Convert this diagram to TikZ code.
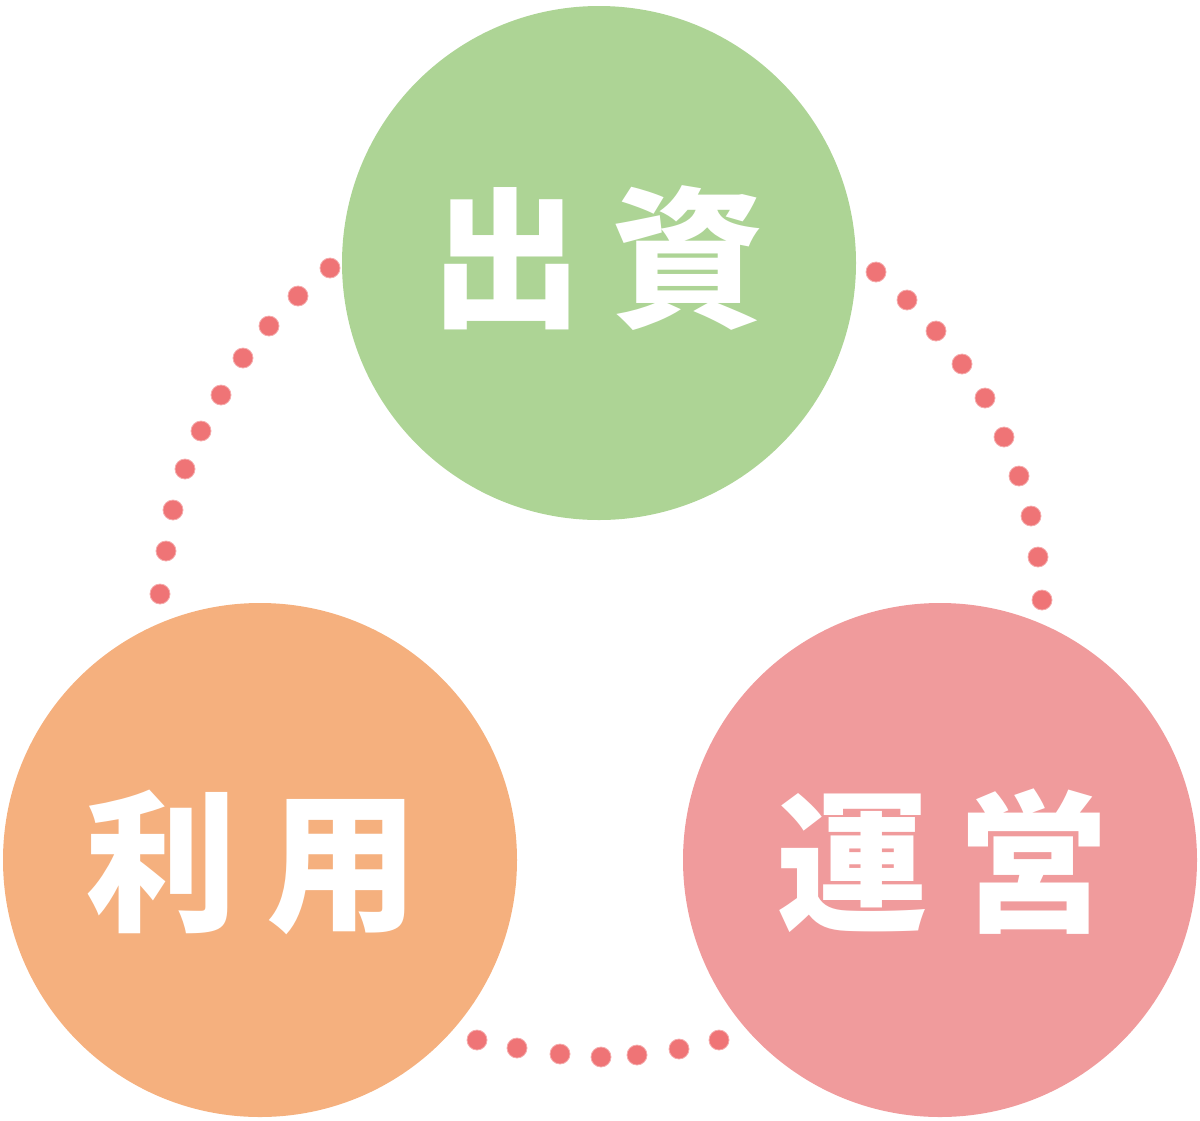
\documentclass[tikz,border=0pt]{standalone}
\usepackage{fontspec}
\newfontfamily\cjk{Noto Sans CJK JP}
\definecolor{cgreen}{HTML}{ADD495}
\definecolor{corange}{HTML}{F5B07E}
\definecolor{cpink}{HTML}{F09B9C}
\definecolor{cdot}{HTML}{EF7476}
\tikzset{
  bigcirc/.style={circle, minimum size=514pt, inner sep=0pt},
  word/.style={text=white, font=\cjk\bfseries\fontsize{152}{152}\selectfont, inner sep=0pt},
  dotmark/.style={circle, fill=cdot, draw=cdot!60!white, line width=0.8pt, minimum size=20pt, inner sep=0pt}
}
\begin{document}
\begin{tikzpicture}[x=1pt,y=-1pt]
\useasboundingbox (0,0) rectangle (1200,1120);
\node[bigcirc, fill=cgreen] (top) at (599,263) {};
\node[bigcirc, fill=corange] (left) at (260,860) {};
\node[bigcirc, fill=cpink] (right) at (940,860) {};
\node[word] (t1) at (597,258) {出\hspace{29pt}資};
\node[word] (t2) at (252,862) {利\hspace{29pt}用};
\node[word] (t3) at (943,862) {運\hspace{29pt}営};
\foreach \x/\y [count=\i] in {330/268,298/296,269/326,243/358,221/395,201/431,185/469,173/510,166/551,160/594}
  \node[dotmark] (l\i) at (\x,\y) {};
\foreach \x/\y [count=\i] in {876/272,907/300,936/331,962/364,985/398,1004/437,1019/476,1031/516,1038/557,1042/600}
  \node[dotmark] (r\i) at (\x,\y) {};
\foreach \x/\y [count=\i] in {477/1040,517/1048,560/1054,601/1057,637/1055,679/1049,719/1040}
  \node[dotmark] (b\i) at (\x,\y) {};
\end{tikzpicture}
\end{document}
